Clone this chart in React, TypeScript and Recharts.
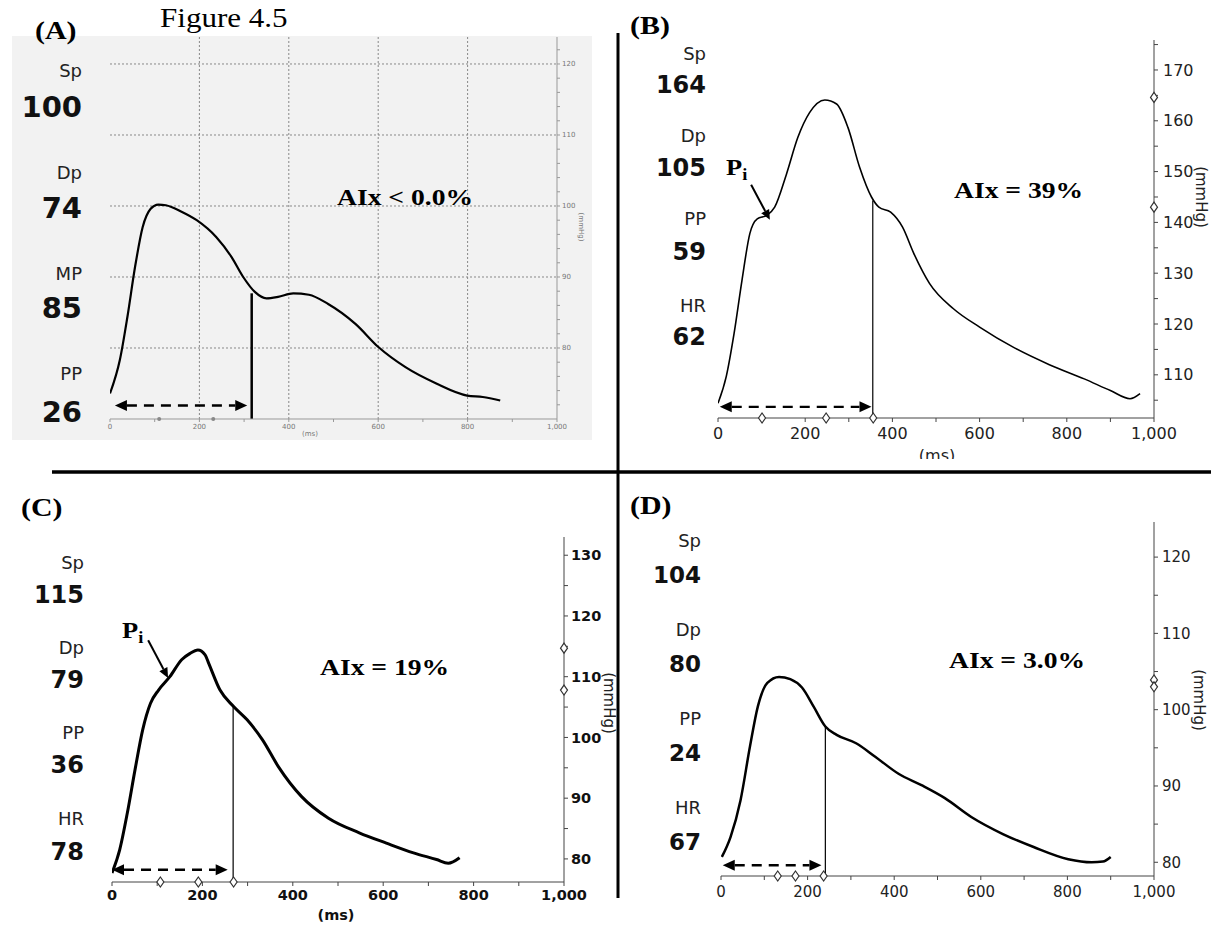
import React from 'react';
import {
  LineChart,
  Line,
  XAxis,
  YAxis,
  CartesianGrid,
  ReferenceLine,
  ReferenceDot,
} from 'recharts';

// pulse waveforms (time in ms, pressure in mmHg)
const timeA = [0, 22, 39, 56, 73, 91, 108, 125, 160, 194, 238, 272, 298, 324, 350, 376, 410, 445, 488, 549, 601, 661, 730, 799, 834, 873];
const pressureA = [73.6, 78.3, 84.4, 91.4, 97.0, 99.6, 100.2, 100.1, 99.2, 98.0, 95.6, 92.8, 90.0, 87.9, 87.0, 87.2, 87.7, 87.5, 86.2, 83.4, 80.1, 77.3, 75.0, 73.3, 73.1, 72.6];

const timeB = [0, 19, 37, 55, 73, 90, 112, 130, 157, 183, 210, 245, 272, 298, 325, 352, 369, 396, 423, 449, 485, 540, 600, 680, 760, 840, 900, 945, 968];
const pressureB = [104.4, 109.7, 118.2, 128.6, 137.8, 140.7, 141.4, 143.0, 149.5, 156.7, 161.6, 164.1, 163.3, 158.7, 150.8, 145.0, 143.0, 142.0, 139.1, 133.9, 128.0, 123.0, 119.4, 115.3, 112.0, 109.2, 106.9, 105.3, 106.3];

const timeC = [0, 17, 34, 51, 68, 85, 103, 128, 154, 172, 190, 206, 214, 239, 269, 299, 333, 368, 419, 479, 547, 607, 667, 718, 744, 769];
const pressureC = [77.7, 81.5, 87.6, 94.7, 101.3, 105.6, 107.8, 110.0, 112.8, 113.8, 114.4, 113.6, 112.2, 107.8, 105.1, 102.9, 99.6, 95.2, 90.3, 86.7, 84.3, 82.6, 81.0, 79.9, 79.3, 80.2];

const timeD = [2, 22, 45, 67, 85, 107, 134, 160, 187, 214, 241, 267, 312, 357, 410, 463, 517, 579, 651, 722, 802, 856, 882, 900];
const pressureD = [80.7, 83.3, 88.1, 95.2, 100.4, 103.5, 104.3, 104.0, 102.9, 100.4, 97.8, 96.7, 95.6, 93.8, 91.6, 90.1, 88.4, 85.9, 83.7, 82.0, 80.4, 80.0, 80.1, 80.7];

// inflection / reflected-wave markers
const inflectionA = { t: 317, p: 87.7 };
const inflectionB = { t: 355, p: 144.3 };
const inflectionC = { t: 268, p: 105.1 };
const inflectionD = { t: 241, p: 97.8 };

const arrowA = { from: 11, to: 307, p: 71.9 };
const arrowB = { from: 4, to: 352, p: 103.7 };
const arrowC = { from: 0, to: 256, p: 78.2 };
const arrowD = { from: 4, to: 232, p: 79.6 };

const timeMarksA = [110, 231];
const timeMarksB = [101, 248, 356];
const timeMarksC = [107, 191, 269];
const timeMarksD = [131, 172, 237];
const pressMarksB = [164.6, 143.0];
const pressMarksC = [114.7, 107.8];
const pressMarksD = [103.9, 103.0];

const piB = { from: { t: 76, p: 147.4 }, to: { t: 119, p: 140.5 } };
const piC = { from: { t: 80, p: 116.0 }, to: { t: 124, p: 109.8 } };

const statsA = [['Sp', '100'], ['Dp', '74'], ['MP', '85'], ['PP', '26']];
const statsB = [['Sp', '164'], ['Dp', '105'], ['PP', '59'], ['HR', '62']];
const statsC = [['Sp', '115'], ['Dp', '79'], ['PP', '36'], ['HR', '78']];
const statsD = [['Sp', '104'], ['Dp', '80'], ['PP', '24'], ['HR', '67']];

const msGridA = [200, 400, 600, 800];
const msTicks = [0, 100, 200, 300, 400, 500, 600, 700, 800, 900, 1000];
const mmGridA = [80, 90, 100, 110, 120];
const mmTicksA = [72, 74, 76, 78, 80, 82, 84, 86, 88, 90, 92, 94, 96, 98, 100, 102, 104, 106, 108, 110, 112, 114, 116, 118, 120, 122];
const mmTicksB = [105, 110, 115, 120, 125, 130, 135, 140, 145, 150, 155, 160, 165, 170, 175];
const mmTicksC = [80, 85, 90, 95, 100, 105, 110, 115, 120, 125, 130];
const mmTicksD = [80, 85, 90, 95, 100, 105, 110, 115, 120];

const SANS = "'DejaVu Sans', Verdana, sans-serif";
const SERIF = "'Liberation Serif', 'Times New Roman', serif";

const toRows = (t: number[], p: number[]) => t.map((ms, i) => ({ ms, p: p[i] }));

const fmtMs = (v: number) => (v % 200 === 0 ? (v === 1000 ? '1,000' : String(v)) : '');
const fmtMm = (v: number) => (v % 10 === 0 ? String(v) : '');

const dashedArrow = (w: number) => (props: any) => {
  const { x1, y1, x2, y2 } = props;
  const h = 12;
  const hw = 5.5;
  return (
    <g>
      <line x1={x1 + h} y1={y1} x2={x2 - h} y2={y2} stroke="#000" strokeWidth={w} strokeDasharray="10 7" />
      <polygon points={`${x1},${y1} ${x1 + h},${y1 - hw} ${x1 + h},${y1 + hw}`} fill="#000" />
      <polygon points={`${x2},${y2} ${x2 - h},${y2 - hw} ${x2 - h},${y2 + hw}`} fill="#000" />
    </g>
  );
};

const pointerArrow = (props: any) => {
  const { x1, y1, x2, y2 } = props;
  const a = Math.atan2(y2 - y1, x2 - x1);
  const h = 10;
  const hw = 4.5;
  const bx = x2 - h * Math.cos(a);
  const by = y2 - h * Math.sin(a);
  const px = -Math.sin(a) * hw;
  const py = Math.cos(a) * hw;
  return (
    <g>
      <line x1={x1} y1={y1} x2={bx} y2={by} stroke="#000" strokeWidth={2} />
      <polygon points={`${x2},${y2} ${bx + px},${by + py} ${bx - px},${by - py}`} fill="#000" />
    </g>
  );
};

const diamond = (props: any) => {
  const { cx, cy } = props;
  return (
    <path
      d={`M${cx},${cy - 5}L${cx + 3.5},${cy}L${cx},${cy + 5}L${cx - 3.5},${cy}Z`}
      fill="#fff"
      stroke="#333"
      strokeWidth={1.2}
    />
  );
};

const smallDot = (props: any) => <circle cx={props.cx} cy={props.cy} r={2} fill="#888" />;

interface PanelProps {
  left: number;
  top: number;
  width: number;
  height: number;
  margin: { top: number; right: number; bottom: number; left: number };
  yWidth: number;
  xHeight: number;
  domain: [number, number];
  rows: { ms: number; p: number }[];
  xTicks: number[];
  yTicks: number[];
  tickStyle: any;
  tickSize: number;
  xTickMargin: number;
  yTickMargin: number;
  axisColor: string;
  lineWidth: number;
  grid?: boolean;
  inflection: { t: number; p: number };
  inflectionWidth: number;
  arrow: { from: number; to: number; p: number };
  arrowWidth: number;
  timeMarks: number[];
  pressMarks: number[];
  markShape: any;
  pi?: { from: { t: number; p: number }; to: { t: number; p: number } };
}

const Panel: React.FC<PanelProps> = (c) => (
  <div style={{ position: 'absolute', left: c.left, top: c.top }}>
    <LineChart width={c.width} height={c.height} data={c.rows} margin={c.margin}>
      {c.grid && (
        <CartesianGrid
          stroke="#888"
          strokeDasharray="2 2"
          strokeWidth={1}
          fill="none"
          verticalValues={msGridA}
          horizontalValues={mmGridA}
        />
      )}
      <XAxis
        dataKey="ms"
        type="number"
        domain={[0, 1000]}
        ticks={c.xTicks}
        interval={0}
        tickFormatter={fmtMs}
        height={c.xHeight}
        tick={c.tickStyle}
        tickSize={c.tickSize}
        tickMargin={c.xTickMargin}
        stroke={c.axisColor}
        allowDataOverflow
      />
      <YAxis
        orientation="right"
        type="number"
        domain={c.domain}
        ticks={c.yTicks}
        interval={0}
        tickFormatter={fmtMm}
        width={c.yWidth}
        tick={c.tickStyle}
        tickSize={c.tickSize}
        tickMargin={c.yTickMargin}
        stroke={c.axisColor}
        allowDataOverflow
      />
      <Line
        type="monotone"
        dataKey="p"
        stroke="#000"
        strokeWidth={c.lineWidth}
        dot={false}
        activeDot={false}
        isAnimationActive={false}
      />
      <ReferenceLine
        segment={[
          { x: c.inflection.t, y: c.domain[0] },
          { x: c.inflection.t, y: c.inflection.p },
        ]}
        stroke="#000"
        strokeWidth={c.inflectionWidth}
        ifOverflow="visible"
      />
      <ReferenceLine
        segment={[
          { x: c.arrow.from, y: c.arrow.p },
          { x: c.arrow.to, y: c.arrow.p },
        ]}
        ifOverflow="visible"
        shape={dashedArrow(c.arrowWidth)}
      />
      {c.pi && (
        <ReferenceLine
          segment={[
            { x: c.pi.from.t, y: c.pi.from.p },
            { x: c.pi.to.t, y: c.pi.to.p },
          ]}
          ifOverflow="visible"
          shape={pointerArrow}
        />
      )}
      {c.timeMarks.map((t) => (
        <ReferenceDot key={'t' + t} x={t} y={c.domain[0]} r={4} ifOverflow="visible" shape={c.markShape} />
      ))}
      {c.pressMarks.map((p) => (
        <ReferenceDot key={'p' + p} x={1000} y={p} r={4} ifOverflow="visible" shape={c.markShape} />
      ))}
    </LineChart>
  </div>
);

const Stats: React.FC<{ x: number; ys: number[]; stats: string[][]; numSize: number }> = ({ x, ys, stats, numSize }) => (
  <>
    {stats.map(([k, v], i) => (
      <g key={k}>
        <text x={x} y={ys[i * 2]} textAnchor="end" dominantBaseline="central" fontFamily={SANS} fontSize={18} fill="#222">
          {k}
        </text>
        <text x={x} y={ys[i * 2 + 1]} textAnchor="end" dominantBaseline="central" fontFamily={SANS} fontSize={numSize} fontWeight="bold" fill="#111">
          {v}
        </text>
      </g>
    ))}
  </>
);

// the scanned figure is slightly stretched sideways, so serif text is widened a bit
const Wide: React.FC<{ x: number; y: number; size: number; bold?: boolean; children: React.ReactNode }> = ({ x, y, size, bold = true, children }) => (
  <g transform={`translate(${x} ${y}) scale(1.15 1)`}>
    <text x={0} y={0} dominantBaseline="central" fontFamily={SERIF} fontWeight={bold ? 'bold' : 'normal'} fontSize={size} fill="#000">
      {children}
    </text>
  </g>
);

export default function App() {
  const tickA = { fontSize: 7, fill: '#777', fontFamily: SANS };
  const tickB = { fontSize: 16, fill: '#222', fontFamily: SANS };
  const tickC = { fontSize: 14.5, fill: '#111', fontFamily: SANS, fontWeight: 'bold' };
  const tickD = { fontSize: 15, fill: '#222', fontFamily: SANS };

  return (
    <div style={{ position: 'absolute', left: 0, top: 0, width: 1211, height: 926, background: '#fff', overflow: 'hidden' }}>
      <div style={{ position: 'absolute', left: 12, top: 36, width: 580, height: 404, background: '#f2f2f2' }} />

      <Panel
        left={0}
        top={0}
        width={605}
        height={470}
        margin={{ top: 37, right: 8, bottom: 31, left: 110 }}
        yWidth={40}
        xHeight={20}
        domain={[70, 123.8]}
        rows={toRows(timeA, pressureA)}
        xTicks={msTicks}
        yTicks={mmTicksA}
        tickStyle={tickA}
        tickSize={3}
        xTickMargin={2}
        yTickMargin={2}
        axisColor="#999"
        lineWidth={2.2}
        grid
        inflection={inflectionA}
        inflectionWidth={2.5}
        arrow={arrowA}
        arrowWidth={2.5}
        timeMarks={timeMarksA}
        pressMarks={[]}
        markShape={smallDot}
      />

      <Panel
        left={605}
        top={0}
        width={606}
        height={458}
        margin={{ top: 40, right: 7, bottom: 10, left: 113 }}
        yWidth={50}
        xHeight={30}
        domain={[101.5, 175.9]}
        rows={toRows(timeB, pressureB)}
        xTicks={msTicks}
        yTicks={mmTicksB}
        tickStyle={tickB}
        tickSize={4}
        xTickMargin={6}
        yTickMargin={5}
        axisColor="#444"
        lineWidth={1.6}
        inflection={inflectionB}
        inflectionWidth={1.2}
        arrow={arrowB}
        arrowWidth={2.2}
        timeMarks={timeMarksB}
        pressMarks={pressMarksB}
        markShape={diamond}
        pi={piB}
      />

      <Panel
        left={0}
        top={472}
        width={618}
        height={454}
        margin={{ top: 65, right: 14, bottom: 14, left: 112 }}
        yWidth={40}
        xHeight={30}
        domain={[76.2, 133]}
        rows={toRows(timeC, pressureC)}
        xTicks={msTicks}
        yTicks={mmTicksC}
        tickStyle={tickC}
        tickSize={4}
        xTickMargin={4}
        yTickMargin={3}
        axisColor="#444"
        lineWidth={3}
        inflection={inflectionC}
        inflectionWidth={1.2}
        arrow={arrowC}
        arrowWidth={2.5}
        timeMarks={timeMarksC}
        pressMarks={pressMarksC}
        markShape={diamond}
        pi={piC}
      />

      <Panel
        left={618}
        top={472}
        width={593}
        height={454}
        margin={{ top: 50, right: 12, bottom: 20, left: 103 }}
        yWidth={45}
        xHeight={30}
        domain={[78.2, 124.6]}
        rows={toRows(timeD, pressureD)}
        xTicks={msTicks}
        yTicks={mmTicksD}
        tickStyle={tickD}
        tickSize={4}
        xTickMargin={6}
        yTickMargin={4}
        axisColor="#444"
        lineWidth={2.5}
        inflection={inflectionD}
        inflectionWidth={1.2}
        arrow={arrowD}
        arrowWidth={2.5}
        timeMarks={timeMarksD}
        pressMarks={pressMarksD}
        markShape={diamond}
      />

      <svg width={1211} height={926} style={{ position: 'absolute', left: 0, top: 0, pointerEvents: 'none' }}>
        <defs>
          <clipPath id="msClipB">
            <rect x={880} y={440} width={120} height={19} />
          </clipPath>
        </defs>
        {/* panel dividers */}
        <line x1={618} y1={33} x2={618} y2={898} stroke="#000" strokeWidth={3} />
        <line x1={52} y1={472} x2={1211} y2={472} stroke="#000" strokeWidth={3.5} />

        <Wide x={160} y={18} size={27} bold={false}>Figure 4.5</Wide>
        <Wide x={35} y={30} size={26}>(A)</Wide>
        <Wide x={630} y={25} size={26}>(B)</Wide>
        <Wide x={21} y={507} size={26}>(C)</Wide>
        <Wide x={630} y={505} size={26}>(D)</Wide>

        <Stats x={82} ys={[70, 107, 172, 208, 273, 308, 373, 412]} stats={statsA} numSize={29} />
        <Stats x={706} ys={[53, 85, 135, 168, 218, 252, 305, 337]} stats={statsB} numSize={24} />
        <Stats x={84} ys={[562, 595, 647, 680, 732, 765, 818, 852]} stats={statsC} numSize={24} />
        <Stats x={701} ys={[540, 575, 629, 664, 718, 753, 807, 842]} stats={statsD} numSize={23} />

        <Wide x={337} y={197} size={24}>AIx {'<'} 0.0%</Wide>
        <Wide x={954} y={190} size={24}>AIx = 39%</Wide>
        <Wide x={320} y={667} size={24}>AIx = 19%</Wide>
        <Wide x={949} y={660} size={24}>AIx = 3.0%</Wide>

        <Wide x={726} y={167} size={23}>
          P<tspan fontSize={16} dy={7}>i</tspan>
        </Wide>
        <Wide x={122} y={630} size={23}>
          P<tspan fontSize={16} dy={7}>i</tspan>
        </Wide>

        <text x={310} y={434} textAnchor="middle" dominantBaseline="central" fontFamily={SANS} fontSize={7} fill="#777">(ms)</text>
        <text x={581} y={227} textAnchor="middle" dominantBaseline="central" fontFamily={SANS} fontSize={7} fill="#777" transform="rotate(90 581 227)">(mmHg)</text>
        <g clipPath="url(#msClipB)">
          <text x={937} y={455} textAnchor="middle" dominantBaseline="central" fontFamily={SANS} fontSize={16} fill="#222">(ms)</text>
        </g>
        <text x={1201} y={197} textAnchor="middle" dominantBaseline="central" fontFamily={SANS} fontSize={15} fill="#222" transform="rotate(90 1201 197)">(mmHg)</text>
        <text x={336} y={915} textAnchor="middle" dominantBaseline="central" fontFamily={SANS} fontSize={14.5} fontWeight="bold" fill="#111">(ms)</text>
        <text x={609} y={703} textAnchor="middle" dominantBaseline="central" fontFamily={SANS} fontSize={15} fill="#222" transform="rotate(90 609 703)">(mmHg)</text>
        <text x={1199} y={700} textAnchor="middle" dominantBaseline="central" fontFamily={SANS} fontSize={15} fill="#222" transform="rotate(90 1199 700)">(mmHg)</text>
      </svg>
    </div>
  );
}
